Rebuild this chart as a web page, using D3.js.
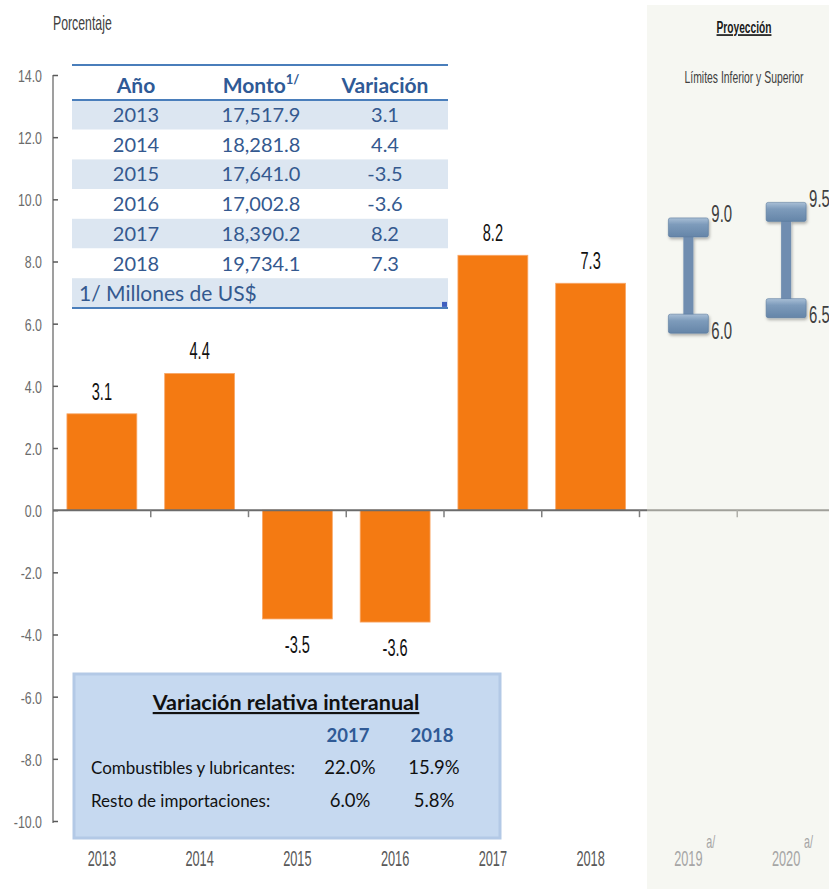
<!DOCTYPE html>
<html><head><meta charset="utf-8">
<script src="https://cdn.jsdelivr.net/npm/d3@7"></script>
<style>
body{margin:0;background:#fff;}
svg{display:block;}
.nar{font-family:"Liberation Sans",Arial,sans-serif;}
.cal{font-family:Lato,"Open Sans",sans-serif;}
</style>
</head><body>
<svg id="c" width="829" height="889"></svg>
<script>
// ---- data ----
const years = ["2013","2014","2015","2016","2017","2018"];
const variation = [3.1, 4.4, -3.5, -3.6, 8.2, 7.3];
const projYears = ["2019","2020"];
const projLow = [6.0, 6.5];
const projHigh = [9.0, 9.5];
const yTicks = [14,12,10,8,6,4,2,0,-2,-4,-6,-8,-10];
const tableHeader = ["Año","Monto","Variación"];
const tableYears = ["2013","2014","2015","2016","2017","2018"];
const tableMonto = ["17,517.9","18,281.8","17,641.0","17,002.8","18,390.2","19,734.1"];
const tableVar = ["3.1","4.4","-3.5","-3.6","8.2","7.3"];
const tableNote = "1/ Millones de US$";
const boxTitle = "Variación relativa interanual";
const boxYears = ["2017","2018"];
const boxRows = ["Combustibles y lubricantes:","Resto de importaciones:"];
const boxVals = [["22.0%","15.9%"],["6.0%","5.8%"]];

const fmt = v => d3.format(".1f")(v).replace("\u2212", "-");
const svg = d3.select("#c");
const allYears = years.concat(projYears);
const x = d3.scaleBand().domain(allYears).range([53, 835]).paddingInner(0).paddingOuter(0);
const cx = d => x(d) + x.bandwidth() / 2;
const y = d3.scaleLinear().domain([-10, 14]).range([821, 75]);
const barW = x.bandwidth() * 0.715;

// narrow text helper: horizontally condensed Liberation Sans
function narrow(sel, s, xf) {
  return sel.attr("class", "nar").attr("transform", `scale(${s},1)`)
    .attr("x", (d, i) => (typeof xf === "function" ? xf(d, i) : xf) / s);
}

// projection background
const px0 = x("2019") + 7.5;
svg.append("rect").attr("x", px0).attr("y", 5).attr("width", 829 - px0).attr("height", 884).attr("fill", "#f6f7f2");

// y axis
const yAxis = d3.axisRight(y).tickValues(yTicks).tickSize(5).tickFormat("");
const gy = svg.append("g").attr("transform", "translate(53,0)").call(yAxis);
gy.select(".domain").attr("stroke", "#7f7f7f").attr("stroke-width", 1.5).attr("d", `M0,${y(14)}V${y(-10)+2}`);
gy.selectAll(".tick line").attr("stroke", "#595959").attr("stroke-width", 1.5);
narrow(svg.append("g").selectAll("text").data(yTicks).join("text"), 0.75, 42)
  .attr("y", d => y(d) + 7)
  .attr("text-anchor", "end").attr("font-size", 16.5).attr("fill", "#6b6b6b")
  .text(d => fmt(d));

narrow(svg.append("text"), 0.6, 53).attr("y", 30).attr("font-size", 20.5).attr("fill", "#404040").text("Porcentaje");

// bars
svg.append("g").selectAll("rect").data(years).join("rect")
  .attr("x", d => cx(d) - barW / 2)
  .attr("width", barW)
  .attr("y", (d, i) => Math.min(y(variation[i]), y(0)))
  .attr("height", (d, i) => Math.abs(y(variation[i]) - y(0)))
  .attr("fill", "#f47a12").attr("stroke", "#f9a869").attr("stroke-width", 0.8);

narrow(svg.append("g").selectAll("text").data(years).join("text"), 0.62, d => cx(d))
  .attr("y", (d, i) => variation[i] >= 0 ? y(variation[i]) - 14 : y(variation[i]) + 34)
  .attr("text-anchor", "middle").attr("font-size", 23.5).attr("fill", "#111")
  .text((d, i) => fmt(variation[i]));

// x axis line and ticks
svg.append("line").attr("x1", 53).attr("x2", px0).attr("y1", y(0)).attr("y2", y(0)).attr("stroke", "#6b6b6b").attr("stroke-width", 2);
svg.append("line").attr("x1", px0).attr("x2", 829).attr("y1", y(0)).attr("y2", y(0)).attr("stroke", "#a0a09a").attr("stroke-width", 2);
svg.append("g").selectAll("line").data(allYears.slice(1)).join("line")
  .attr("x1", d => x(d)).attr("x2", d => x(d)).attr("y1", y(0)).attr("y2", y(0) + 7)
  .attr("stroke", d => x(d) > px0 ? "#b0b0aa" : "#7f7f7f").attr("stroke-width", 1.5);

narrow(svg.append("g").selectAll("text").data(years).join("text"), 0.58, d => cx(d))
  .attr("y", 866).attr("text-anchor", "middle").attr("font-size", 22).attr("fill", "#595959").text(d => d);
narrow(svg.append("g").selectAll("text").data(projYears).join("text"), 0.58, d => cx(d))
  .attr("y", 866).attr("text-anchor", "middle").attr("font-size", 22).attr("fill", "#a6a6a6").text(d => d);
narrow(svg.append("g").selectAll("text").data(projYears).join("text"), 0.6, d => cx(d) + 18)
  .attr("y", 848).attr("font-size", 18).attr("fill", "#a6a6a6").text("a/");

// projection titles
const pcx = 744;
narrow(svg.append("text"), 0.6, pcx).attr("y", 33).attr("text-anchor", "middle")
  .attr("font-size", 17).attr("font-weight", "bold").attr("fill", "#1a1a1a").attr("text-decoration", "underline").text("Proyección");
narrow(svg.append("text"), 0.65, pcx).attr("y", 83).attr("text-anchor", "middle")
  .attr("font-size", 16).attr("fill", "#404040").text("Límites Inferior y Superior");

// projection I-beams
const defs = svg.append("defs");
const gr = defs.append("linearGradient").attr("id","capg").attr("x1",0).attr("y1",0).attr("x2",0).attr("y2",1);
gr.append("stop").attr("offset","0").attr("stop-color","#a9bfd6");
gr.append("stop").attr("offset","0.35").attr("stop-color","#7d9bbb");
gr.append("stop").attr("offset","1").attr("stop-color","#6585a8");
const flt = defs.append("filter").attr("id","sh").attr("x","-20%").attr("y","-20%").attr("width","150%").attr("height","160%");
flt.append("feDropShadow").attr("dx",1).attr("dy",2).attr("stdDeviation",1.5).attr("flood-color","#000").attr("flood-opacity",0.3);

const capW = 40, capH = 19, stemW = 10;
const ib = svg.append("g").selectAll("g").data(projYears).join("g").attr("filter","url(#sh)");
ib.append("rect").attr("x", d => cx(d) - stemW/2)
  .attr("width", stemW).attr("y", (d,i) => y(projHigh[i]) - 3).attr("height", (d,i) => y(projLow[i]) - y(projHigh[i]) + 3)
  .attr("fill", "#6f8db0");
ib.append("rect").attr("x", d => cx(d) - capW/2).attr("width", capW)
  .attr("y", (d,i) => y(projHigh[i]) - capH/2 - 3).attr("height", capH).attr("rx",2)
  .attr("fill", "url(#capg)").attr("stroke","#5d7c9f").attr("stroke-width",0.6);
ib.append("rect").attr("x", d => cx(d) - capW/2).attr("width", capW)
  .attr("y", (d,i) => y(projLow[i]) - capH/2).attr("height", capH).attr("rx",2)
  .attr("fill", "url(#capg)").attr("stroke","#5d7c9f").attr("stroke-width",0.6);
narrow(svg.append("g").selectAll("text").data(projYears).join("text"), 0.65, d => cx(d) + 23)
  .attr("y", (d,i) => y(projHigh[i]) - 8)
  .attr("font-size", 23).attr("fill","#404040").text((d,i) => fmt(projHigh[i]));
narrow(svg.append("g").selectAll("text").data(projYears).join("text"), 0.65, d => cx(d) + 23)
  .attr("y", (d,i) => y(projLow[i]) + 15)
  .attr("font-size", 23).attr("fill","#404040").text((d,i) => fmt(projLow[i]));

// ---- table ----
const tX0 = 72, tX1 = 448, tTop = 65, headH = 35, rowH = 29.7;
const colX = [136, 261, 385];
const tg = svg.append("g").attr("class","cal");
const rowsAll = tableYears.map((d,i)=>[d, tableMonto[i], tableVar[i]]);
tg.selectAll("rect.row").data(rowsAll.concat([null])).join("rect")
  .attr("x", tX0).attr("width", tX1 - tX0).attr("y", (d,i)=> tTop + headH + i*rowH).attr("height", rowH)
  .attr("fill", (d,i)=> i%2===0 ? "#dce6f1" : "#ffffff");
tg.append("line").attr("x1",tX0).attr("x2",tX1).attr("y1",tTop).attr("y2",tTop).attr("stroke","#4a7ebb").attr("stroke-width",2);
tg.append("line").attr("x1",tX0).attr("x2",tX1).attr("y1",tTop+headH).attr("y2",tTop+headH).attr("stroke","#4a7ebb").attr("stroke-width",2);
const tBot = tTop + headH + 7*rowH;
tg.append("line").attr("x1",tX0).attr("x2",tX1).attr("y1",tBot).attr("y2",tBot).attr("stroke","#4a7ebb").attr("stroke-width",2);
tg.append("rect").attr("x",tX1-6).attr("y",tBot-6).attr("width",5).attr("height",5).attr("fill","#3f5fbf");
const ht = tg.selectAll("text.h").data(tableHeader).join("text")
  .attr("x",(d,i)=>colX[i]).attr("y", tTop+28).attr("text-anchor","middle")
  .attr("font-size",21).attr("font-weight","bold").attr("fill","#2f5a96");
ht.append("tspan").text(d=>d);
ht.filter((d,i)=>i===1).append("tspan").attr("dy",-9).attr("font-size",13).text("1/");
rowsAll.forEach((r,i)=>{
  tg.selectAll(null).data(r).join("text")
    .attr("x",(d,j)=>colX[j]).attr("y", tTop+headH+i*rowH+22).attr("text-anchor","middle")
    .attr("font-size",20).attr("fill","#34598f").text(d=>d);
});
tg.append("text").attr("x",79).attr("y",tTop+headH+6*rowH+23).attr("font-size",21).attr("fill","#34598f").text(tableNote);

// ---- bottom box ----
const bg = svg.append("g").attr("class","cal");
bg.append("rect").attr("x",74).attr("y",674).attr("width",426).attr("height",164)
  .attr("fill","#c6d9f0").attr("stroke","#b3c9e6").attr("stroke-width",3);
bg.append("text").attr("x",286).attr("y",710).attr("text-anchor","middle").attr("font-size",21.5).attr("font-weight","bold")
  .attr("fill","#111").attr("text-decoration","underline").text(boxTitle);
const bcol = [348, 432];
bg.selectAll("text.by").data(boxYears).join("text").attr("x",(d,i)=>bcol[i]).attr("y",742).attr("text-anchor","middle")
  .attr("font-size",18.5).attr("font-weight","bold").attr("fill","#2f5a96").text(d=>d);
boxRows.forEach((r,i)=>{
  const yy = 774 + i*33;
  bg.append("text").attr("x",91).attr("y",yy).attr("font-size",17).attr("fill","#111").text(r);
  bg.selectAll(null).data(boxVals[i]).join("text").attr("x",(d,j)=>bcol[j]+2).attr("y",yy).attr("text-anchor","middle")
    .attr("font-size",18.5).attr("fill","#111").text(d=>d);
});
</script>
</body></html>
